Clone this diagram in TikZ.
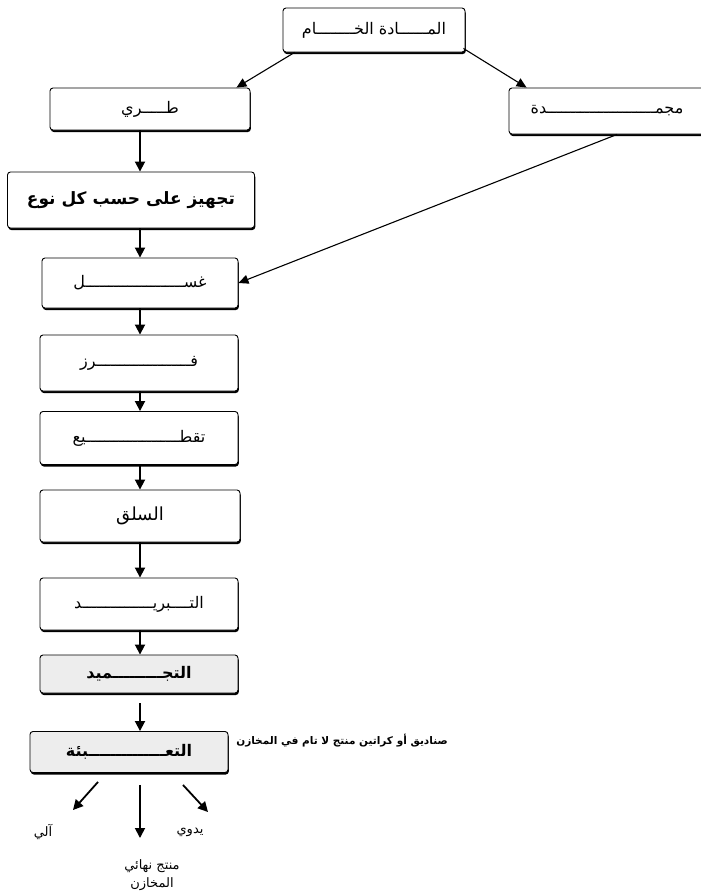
\documentclass[tikz,border=0pt]{standalone}
\usepackage{fontspec}
\newfontfamily\arabicfont[Script=Arabic]{DejaVu Sans}
\TeXXeTstate=1
\usetikzlibrary{shadows,arrows.meta}
\newcommand{\ar}[1]{\arabicfont\beginR #1\endR}
\begin{document}
\begin{tikzpicture}[x=1pt,y=-1pt,
  box/.style={draw, line width=0.9pt, rounded corners=3pt, fill=white,
    inner sep=0pt, font=\fontsize{16}{18}\selectfont,
    drop shadow={shadow xshift=0.8pt, shadow yshift=-2pt, fill=black, opacity=1}},
  graybox/.style={box, fill=gray!14},
  lbl/.style={inner sep=1pt, font=\fontsize{13}{16}\selectfont, align=center},
  arr/.style={-{Triangle[length=10pt,width=10pt]}, line width=1.8pt},
  thinarr/.style={-{Triangle[length=10pt,width=9pt]}, line width=1.1pt}]
\useasboundingbox (0,0) rectangle (701,895);
\clip (0,0) rectangle (701,895);

\node[box, minimum width=182pt, minimum height=44pt] (top) at (374,30) {\ar{المــــــادة الخــــــــام}};
\node[box, minimum width=200pt, minimum height=42pt] (fresh) at (150,109) {\ar{طـــــري}};
\node[box, minimum width=196pt, minimum height=46pt] (frozen) at (607,111) {\ar{مجمـــــــــــــــــــــــدة}};
\node[box, minimum width=247pt, minimum height=56pt, font=\fontsize{17}{19}\bfseries] (prep) at (131,200) {\ar{تجهيز على حسب كل نوع}};
\node[box, minimum width=196pt, minimum height=50pt] (wash) at (140,283) {\ar{غســـــــــــــــــــــل}};
\node[box, minimum width=198pt, minimum height=56pt] (sort) at (139,363) {\ar{فــــــــــــــــــــرز}};
\node[box, minimum width=198pt, minimum height=53pt] (cut) at (139,438) {\ar{تقطــــــــــــــــــــيع}};
\node[box, minimum width=200pt, minimum height=52pt, font=\fontsize{18}{20}\selectfont] (boil) at (140,516) {\ar{السلق}};
\node[box, minimum width=198pt, minimum height=52pt] (cool) at (139,604) {\ar{التــــبريـــــــــــــــد}};
\node[graybox, minimum width=198pt, minimum height=38pt, font=\fontsize{16}{18}\bfseries] (freeze) at (139,674) {\ar{التجـــــــــميد}};
\node[graybox, minimum width=198pt, minimum height=41pt, font=\fontsize{16}{18}\bfseries] (pack) at (129,752) {\ar{التعــــــــــــــبئة}};

\node[lbl, font=\fontsize{10.5}{12}\bfseries] (note) at (342,741) {\ar{صناديق أو كراتين منتج لا تام في المخازن}};
\node[lbl] (auto) at (43,832) {\ar{آلي}};
\node[lbl] (manual) at (190,832) {\ar{يدوي}};
\node[lbl, font=\fontsize{13}{18}\selectfont] (final) at (152,875) {\ar{منتج نهائي}\\\ar{المخازن}};

\coordinate (autotip) at (73,810);
\coordinate (finaltip) at (140,838);
\coordinate (manualtip) at (208,812);

\draw[thinarr] ([xshift=12pt]top.south west) -- ([xshift=-14pt]fresh.north east);
\draw[thinarr] ([xshift=-2pt, yshift=4pt]top.south east) -- ([xshift=18pt]frozen.north west);
\draw[thinarr] ([xshift=10pt]frozen.south) -- (wash.east);

\draw[arr] (fresh.south -| wash) -- (prep.north -| wash);
\draw[arr] (prep.south -| wash) -- (wash.north);
\draw[arr] (wash.south) -- (sort.north -| wash);
\draw[arr] (sort.south -| wash) -- (cut.north -| wash);
\draw[arr] (cut.south -| wash) -- (boil.north -| wash);
\draw[arr] (boil.south -| wash) -- (cool.north -| wash);
\draw[arr] (cool.south -| wash) -- (freeze.north -| wash);
\draw[arr, shorten <=10pt] (freeze.south -| wash) -- (pack.north -| wash);

\draw[arr] ([xshift=-31pt, yshift=-9pt]pack.south) -- (autotip);
\draw[arr, shorten <=12pt] (pack.south -| wash) -- (finaltip);
\draw[arr] ([xshift=54pt, yshift=-12pt]pack.south) -- (manualtip);
\end{tikzpicture}
\end{document}
